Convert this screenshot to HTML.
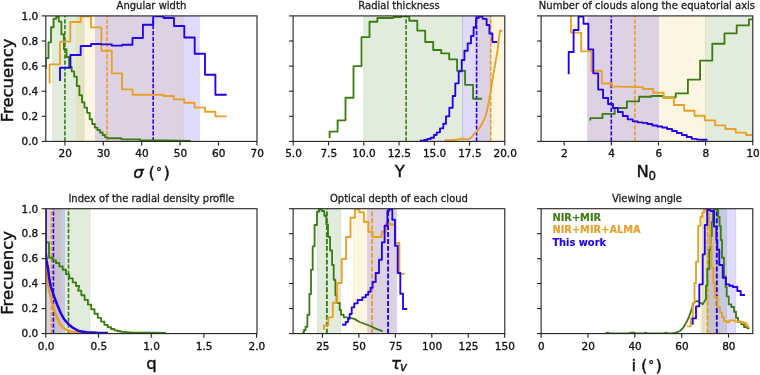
<!DOCTYPE html>
<html><head><meta charset="utf-8"><title>Posterior distributions</title>
<style>html,body{margin:0;padding:0;background:#fff;}svg{display:block;}</style></head>
<body>
<svg width="760" height="375" viewBox="0 0 760 375" font-family="'DejaVu Sans','Liberation Sans',sans-serif">
<rect width="760" height="375" fill="#fff"/>
<clipPath id="c1"><rect x="45.8" y="15.9" width="211.2" height="125.5"/></clipPath>
<g clip-path="url(#c1)">
<rect x="52.6" y="15.9" width="31.5" height="125.5" fill="#3a7d14" fill-opacity="0.15" stroke="#3a7d14" stroke-opacity="0.15" stroke-width="0.7"/>
<rect x="76.4" y="15.9" width="107.5" height="125.5" fill="#eebe3c" fill-opacity="0.15" stroke="#eebe3c" stroke-opacity="0.15" stroke-width="0.7"/>
<rect x="95.6" y="15.9" width="103.7" height="125.5" fill="#2200f0" fill-opacity="0.14" stroke="#2200f0" stroke-opacity="0.14" stroke-width="0.7"/>
<line x1="64.9" y1="141.4" x2="64.9" y2="15.9" stroke="#3a7d14" stroke-width="1.60" stroke-dasharray="4.2 1.7"/>
<line x1="107.1" y1="141.4" x2="107.1" y2="15.9" stroke="#e8a026" stroke-width="1.60" stroke-dasharray="4.2 1.7"/>
<line x1="153.2" y1="141.4" x2="153.2" y2="15.9" stroke="#2200f0" stroke-width="1.60" stroke-dasharray="4.2 1.7"/>
<path d="M45.9 68.0 L45.9 58.0 L48.5 58.0 L48.5 42.4 L51.0 42.4 L51.0 27.2 L53.6 27.2 L53.6 18.8 L56.2 18.8 L56.2 16.8 L58.8 16.8 L58.8 21.6 L61.4 21.6 L61.4 34.4 L63.9 34.4 L63.9 49.2 L66.5 49.2 L66.5 57.0 L69.1 57.0 L69.1 67.0 L71.7 67.0 L71.7 71.4 L74.2 71.4 L74.2 76.6 L76.8 76.6 L76.8 86.0 L79.4 86.0 L79.4 95.2 L82.0 95.2 L82.0 102.4 L84.5 102.4 L84.5 107.6 L87.1 107.6 L87.1 112.8 L89.7 112.8 L89.7 119.2 L92.2 119.2 L92.2 124.0 L94.8 124.0 L94.8 127.6 L97.4 127.6 L97.4 130.0 L100.0 130.0 L100.0 132.5 L102.6 132.5 L102.6 135.0 L105.1 135.0 L105.1 137.3 L107.7 137.3 L107.7 138.2 L121.3 138.2 L121.3 139.3 L140.0 139.3 L140.0 140.2 L165.0 140.5 L190.0 141.0" fill="none" stroke="#3a7d14" stroke-width="1.85" stroke-linejoin="round" stroke-linecap="square" />
<path d="M49.6 82.6 L49.6 64.4 L60.0 64.4 L60.0 41.6 L70.3 41.6 L70.3 22.0 L80.7 22.0 L80.7 16.3 L91.0 16.3 L91.0 27.3 L101.4 27.3 L101.4 50.7 L111.8 50.7 L111.8 73.3 L122.1 73.3 L122.1 89.4 L132.5 89.4 L132.5 94.7 L142.8 94.7 L142.8 94.7 L153.2 94.7 L153.2 94.7 L163.6 94.7 L163.6 96.0 L173.9 96.0 L173.9 99.4 L184.3 99.4 L184.3 102.7 L194.6 102.7 L194.6 107.6 L205.0 107.6 L205.0 111.7 L215.4 111.7 L215.4 116.3 L225.7 116.3" fill="none" stroke="#e8a026" stroke-width="1.85" stroke-linejoin="round" stroke-linecap="square" />
<path d="M60.0 80.0 L60.0 67.7 L70.4 67.7 L70.4 55.0 L80.7 55.0 L80.7 46.0 L91.1 46.0 L91.1 44.0 L101.4 44.0 L101.4 44.4 L111.8 44.4 L111.8 45.6 L122.2 45.6 L122.2 44.7 L132.5 44.7 L132.5 38.0 L142.9 38.0 L142.9 24.7 L153.2 24.7 L153.2 16.3 L163.6 16.3 L163.6 18.0 L174.0 18.0 L174.0 26.0 L184.3 26.0 L184.3 37.5 L194.7 37.5 L194.7 53.7 L205.0 53.7 L205.0 74.7 L215.4 74.7 L215.4 94.7 L225.8 94.7" fill="none" stroke="#2200f0" stroke-width="1.85" stroke-linejoin="round" stroke-linecap="square" />
</g>
<rect x="45.8" y="15.9" width="211.2" height="125.5" fill="none" stroke="#222" stroke-width="1.10"/>
<line x1="41.7" y1="141.4" x2="45.8" y2="141.4" stroke="#222" stroke-width="1.10"/>
<text transform="translate(38.20 145.20) scale(0.930 1)" font-size="11.30" text-anchor="end" fill="#111" font-weight="normal" font-style="normal" stroke="#111" stroke-width="0.35" >0.0</text>
<line x1="41.7" y1="116.3" x2="45.8" y2="116.3" stroke="#222" stroke-width="1.10"/>
<text transform="translate(38.20 120.10) scale(0.930 1)" font-size="11.30" text-anchor="end" fill="#111" font-weight="normal" font-style="normal" stroke="#111" stroke-width="0.35" >0.2</text>
<line x1="41.7" y1="91.2" x2="45.8" y2="91.2" stroke="#222" stroke-width="1.10"/>
<text transform="translate(38.20 95.00) scale(0.930 1)" font-size="11.30" text-anchor="end" fill="#111" font-weight="normal" font-style="normal" stroke="#111" stroke-width="0.35" >0.4</text>
<line x1="41.7" y1="66.1" x2="45.8" y2="66.1" stroke="#222" stroke-width="1.10"/>
<text transform="translate(38.20 69.90) scale(0.930 1)" font-size="11.30" text-anchor="end" fill="#111" font-weight="normal" font-style="normal" stroke="#111" stroke-width="0.35" >0.6</text>
<line x1="41.7" y1="41.0" x2="45.8" y2="41.0" stroke="#222" stroke-width="1.10"/>
<text transform="translate(38.20 44.80) scale(0.930 1)" font-size="11.30" text-anchor="end" fill="#111" font-weight="normal" font-style="normal" stroke="#111" stroke-width="0.35" >0.8</text>
<line x1="41.7" y1="15.9" x2="45.8" y2="15.9" stroke="#222" stroke-width="1.10"/>
<text transform="translate(38.20 19.70) scale(0.930 1)" font-size="11.30" text-anchor="end" fill="#111" font-weight="normal" font-style="normal" stroke="#111" stroke-width="0.35" >1.0</text>
<line x1="64.9" y1="141.4" x2="64.9" y2="145.5" stroke="#222" stroke-width="1.10"/>
<text transform="translate(65.20 157.30) scale(0.930 1)" font-size="11.30" text-anchor="middle" fill="#111" font-weight="normal" font-style="normal" stroke="#111" stroke-width="0.35" >20</text>
<line x1="103.3" y1="141.4" x2="103.3" y2="145.5" stroke="#222" stroke-width="1.10"/>
<text transform="translate(103.60 157.30) scale(0.930 1)" font-size="11.30" text-anchor="middle" fill="#111" font-weight="normal" font-style="normal" stroke="#111" stroke-width="0.35" >30</text>
<line x1="141.7" y1="141.4" x2="141.7" y2="145.5" stroke="#222" stroke-width="1.10"/>
<text transform="translate(142.00 157.30) scale(0.930 1)" font-size="11.30" text-anchor="middle" fill="#111" font-weight="normal" font-style="normal" stroke="#111" stroke-width="0.35" >40</text>
<line x1="180.1" y1="141.4" x2="180.1" y2="145.5" stroke="#222" stroke-width="1.10"/>
<text transform="translate(180.40 157.30) scale(0.930 1)" font-size="11.30" text-anchor="middle" fill="#111" font-weight="normal" font-style="normal" stroke="#111" stroke-width="0.35" >50</text>
<line x1="218.5" y1="141.4" x2="218.5" y2="145.5" stroke="#222" stroke-width="1.10"/>
<text transform="translate(218.80 157.30) scale(0.930 1)" font-size="11.30" text-anchor="middle" fill="#111" font-weight="normal" font-style="normal" stroke="#111" stroke-width="0.35" >60</text>
<line x1="256.9" y1="141.4" x2="256.9" y2="145.5" stroke="#222" stroke-width="1.10"/>
<text transform="translate(257.20 157.30) scale(0.930 1)" font-size="11.30" text-anchor="middle" fill="#111" font-weight="normal" font-style="normal" stroke="#111" stroke-width="0.35" >70</text>
<text transform="translate(151.40 9.10) scale(0.945 1)" font-size="10.60" text-anchor="middle" fill="#1c1c1c" font-weight="normal" font-style="normal" stroke="#1c1c1c" stroke-width="0.30" >Angular width</text>
<clipPath id="c2"><rect x="293.1" y="15.9" width="211.7" height="125.5"/></clipPath>
<g clip-path="url(#c2)">
<rect x="363.8" y="15.9" width="98.8" height="125.5" fill="#3a7d14" fill-opacity="0.15" stroke="#3a7d14" stroke-opacity="0.15" stroke-width="0.7"/>
<rect x="476.6" y="15.9" width="28.2" height="125.5" fill="#eebe3c" fill-opacity="0.15" stroke="#eebe3c" stroke-opacity="0.15" stroke-width="0.7"/>
<rect x="462.5" y="15.9" width="28.2" height="125.5" fill="#2200f0" fill-opacity="0.14" stroke="#2200f0" stroke-opacity="0.14" stroke-width="0.7"/>
<line x1="406.1" y1="141.4" x2="406.1" y2="15.9" stroke="#3a7d14" stroke-width="1.60" stroke-dasharray="4.2 1.7"/>
<line x1="490.7" y1="141.4" x2="490.7" y2="15.9" stroke="#e8a026" stroke-width="1.60" stroke-dasharray="4.2 1.7"/>
<line x1="476.6" y1="141.4" x2="476.6" y2="15.9" stroke="#2200f0" stroke-width="1.60" stroke-dasharray="4.2 1.7"/>
<path d="M329.6 137.0 L329.6 131.6 L337.6 131.6 L337.6 120.3 L345.5 120.3 L345.5 97.7 L353.5 97.7 L353.5 66.1 L361.5 66.1 L361.5 37.1 L369.5 37.1 L369.5 21.7 L377.4 21.7 L377.4 18.0 L385.4 18.0 L385.4 18.0 L393.4 18.0 L393.4 17.0 L401.3 17.0 L401.3 16.3 L409.3 16.3 L409.3 20.7 L417.3 20.7 L417.3 30.6 L425.2 30.6 L425.2 42.0 L433.2 42.0 L433.2 50.0 L441.2 50.0 L441.2 53.3 L449.2 53.3 L449.2 59.3 L457.1 59.3 L457.1 70.7 L465.1 70.7 L465.1 84.8 L473.1 84.8 L473.1 98.7 L481.0 98.7" fill="none" stroke="#3a7d14" stroke-width="1.85" stroke-linejoin="round" stroke-linecap="square" />
<path d="M445.3 140.3 L454.0 140.0 L463.3 138.7 L467.3 139.6 L471.3 137.7 L474.0 133.7 L476.7 131.7 L479.3 128.3 L482.0 123.7 L484.7 118.3 L486.7 112.3 L488.0 105.7 L489.3 99.0 L490.7 91.0 L492.0 82.7 L493.3 74.7 L494.7 66.7 L496.0 59.3 L497.3 52.0 L498.3 44.0 L499.7 32.0 L499.9 30.7 L501.2 30.7" fill="none" stroke="#e8a026" stroke-width="1.85" stroke-linejoin="round" stroke-linecap="square" />
<path d="M420.7 140.6 L424.0 140.6 L424.0 140.0 L427.3 140.0 L427.3 139.0 L430.7 139.0 L430.7 137.7 L434.0 137.7 L434.0 135.0 L436.7 135.0 L436.7 132.3 L440.0 132.3 L440.0 128.3 L443.3 128.3 L443.3 123.7 L446.0 123.7 L446.0 116.3 L449.3 116.3 L449.3 107.7 L452.7 107.7 L452.7 96.0 L455.3 96.0 L455.3 83.3 L458.7 83.3 L458.7 71.3 L461.7 71.3 L461.7 60.0 L464.4 60.0 L464.4 50.7 L467.7 50.7 L467.7 43.3 L471.0 43.3 L471.0 36.0 L473.6 36.0 L473.6 27.2 L476.0 27.2 L476.0 18.0 L478.7 18.0 L478.7 16.6 L482.6 16.6 L482.6 18.8 L486.6 18.8 L486.6 25.0 L489.4 25.0 L489.4 33.5 L492.4 33.5 L492.4 42.0 L496.3 42.0" fill="none" stroke="#2200f0" stroke-width="1.85" stroke-linejoin="round" stroke-linecap="square" />
</g>
<rect x="293.1" y="15.9" width="211.7" height="125.5" fill="none" stroke="#222" stroke-width="1.10"/>
<line x1="289.0" y1="141.4" x2="293.1" y2="141.4" stroke="#222" stroke-width="1.10"/>
<line x1="289.0" y1="116.3" x2="293.1" y2="116.3" stroke="#222" stroke-width="1.10"/>
<line x1="289.0" y1="91.2" x2="293.1" y2="91.2" stroke="#222" stroke-width="1.10"/>
<line x1="289.0" y1="66.1" x2="293.1" y2="66.1" stroke="#222" stroke-width="1.10"/>
<line x1="289.0" y1="41.0" x2="293.1" y2="41.0" stroke="#222" stroke-width="1.10"/>
<line x1="289.0" y1="15.9" x2="293.1" y2="15.9" stroke="#222" stroke-width="1.10"/>
<line x1="293.2" y1="141.4" x2="293.2" y2="145.5" stroke="#222" stroke-width="1.10"/>
<text transform="translate(293.50 157.30) scale(0.930 1)" font-size="11.30" text-anchor="middle" fill="#111" font-weight="normal" font-style="normal" stroke="#111" stroke-width="0.35" >5.0</text>
<line x1="328.5" y1="141.4" x2="328.5" y2="145.5" stroke="#222" stroke-width="1.10"/>
<text transform="translate(328.77 157.30) scale(0.930 1)" font-size="11.30" text-anchor="middle" fill="#111" font-weight="normal" font-style="normal" stroke="#111" stroke-width="0.35" >7.5</text>
<line x1="363.8" y1="141.4" x2="363.8" y2="145.5" stroke="#222" stroke-width="1.10"/>
<text transform="translate(364.05 157.30) scale(0.930 1)" font-size="11.30" text-anchor="middle" fill="#111" font-weight="normal" font-style="normal" stroke="#111" stroke-width="0.35" >10.0</text>
<line x1="399.0" y1="141.4" x2="399.0" y2="145.5" stroke="#222" stroke-width="1.10"/>
<text transform="translate(399.32 157.30) scale(0.930 1)" font-size="11.30" text-anchor="middle" fill="#111" font-weight="normal" font-style="normal" stroke="#111" stroke-width="0.35" >12.5</text>
<line x1="434.3" y1="141.4" x2="434.3" y2="145.5" stroke="#222" stroke-width="1.10"/>
<text transform="translate(434.60 157.30) scale(0.930 1)" font-size="11.30" text-anchor="middle" fill="#111" font-weight="normal" font-style="normal" stroke="#111" stroke-width="0.35" >15.0</text>
<line x1="469.6" y1="141.4" x2="469.6" y2="145.5" stroke="#222" stroke-width="1.10"/>
<text transform="translate(469.88 157.30) scale(0.930 1)" font-size="11.30" text-anchor="middle" fill="#111" font-weight="normal" font-style="normal" stroke="#111" stroke-width="0.35" >17.5</text>
<line x1="504.8" y1="141.4" x2="504.8" y2="145.5" stroke="#222" stroke-width="1.10"/>
<text transform="translate(505.15 157.30) scale(0.930 1)" font-size="11.30" text-anchor="middle" fill="#111" font-weight="normal" font-style="normal" stroke="#111" stroke-width="0.35" >20.0</text>
<text transform="translate(398.95 9.10) scale(0.945 1)" font-size="10.60" text-anchor="middle" fill="#1c1c1c" font-weight="normal" font-style="normal" stroke="#1c1c1c" stroke-width="0.30" >Radial thickness</text>
<clipPath id="c3"><rect x="541.1" y="15.9" width="211.7" height="125.5"/></clipPath>
<g clip-path="url(#c3)">
<rect x="705.6" y="15.9" width="47.2" height="125.5" fill="#3a7d14" fill-opacity="0.15" stroke="#3a7d14" stroke-opacity="0.15" stroke-width="0.7"/>
<rect x="587.7" y="15.9" width="118.0" height="125.5" fill="#eebe3c" fill-opacity="0.15" stroke="#eebe3c" stroke-opacity="0.15" stroke-width="0.7"/>
<rect x="587.7" y="15.9" width="70.8" height="125.5" fill="#2200f0" fill-opacity="0.14" stroke="#2200f0" stroke-opacity="0.14" stroke-width="0.7"/>
<line x1="634.9" y1="141.4" x2="634.9" y2="15.9" stroke="#e8a026" stroke-width="1.60" stroke-dasharray="4.2 1.7"/>
<line x1="611.3" y1="141.4" x2="611.3" y2="15.9" stroke="#2200f0" stroke-width="1.60" stroke-dasharray="4.2 1.7"/>
<path d="M590.3 119.6 L590.3 118.1 L602.5 118.1 L602.5 113.9 L614.7 113.9 L614.7 108.0 L626.9 108.0 L626.9 101.3 L639.1 101.3 L639.1 96.7 L651.3 96.7 L651.3 96.0 L663.5 96.0 L663.5 97.4 L675.7 97.4 L675.7 93.4 L687.9 93.4 L687.9 79.6 L700.1 79.6 L700.1 60.6 L712.3 60.6 L712.3 43.7 L724.5 43.7 L724.5 33.4 L736.7 33.4 L736.7 25.3 L748.9 25.3 L748.9 19.3 L761.1 19.3" fill="none" stroke="#3a7d14" stroke-width="1.85" stroke-linejoin="round" stroke-linecap="square" />
<path d="M570.9 16.3 L570.9 32.6 L581.2 32.6 L581.2 51.3 L591.5 51.3 L591.5 70.7 L601.8 70.7 L601.8 83.5 L612.1 83.5 L612.1 86.6 L622.4 86.6 L622.4 86.9 L632.7 86.9 L632.7 87.1 L643.0 87.1 L643.0 89.0 L653.3 89.0 L653.3 92.7 L663.6 92.7 L663.6 98.0 L673.9 98.0 L673.9 105.0 L684.2 105.0 L684.2 110.7 L694.5 110.7 L694.5 115.7 L704.8 115.7 L704.8 120.4 L715.1 120.4 L715.1 125.3 L725.4 125.3 L725.4 129.0 L735.7 129.0 L735.7 132.6 L746.0 132.6 L746.0 135.0 L756.3 135.0" fill="none" stroke="#e8a026" stroke-width="1.85" stroke-linejoin="round" stroke-linecap="square" />
<path d="M568.7 73.3 L568.7 52.0 L573.6 52.0 L573.6 30.0 L578.5 30.0 L578.5 16.6 L583.5 16.6 L583.5 23.7 L588.4 23.7 L588.4 49.3 L593.3 49.3 L593.3 73.3 L598.2 73.3 L598.2 89.6 L603.1 89.6 L603.1 98.0 L608.1 98.0 L608.1 104.0 L613.0 104.0 L613.0 108.0 L617.9 108.0 L617.9 112.0 L622.8 112.0 L622.8 116.0 L627.7 116.0 L627.7 119.3 L632.7 119.3 L632.7 121.3 L637.6 121.3 L637.6 122.3 L642.5 122.3 L642.5 122.9 L647.4 122.9 L647.4 124.0 L652.3 124.0 L652.3 125.5 L657.3 125.5 L657.3 126.5 L662.2 126.5 L662.2 127.5 L667.1 127.5 L667.1 129.0 L672.0 129.0 L672.0 131.0 L676.9 131.0 L676.9 133.0 L681.9 133.0 L681.9 135.0 L686.8 135.0 L686.8 137.0 L691.7 137.0 L691.7 138.8 L696.6 138.8 L696.6 139.6 L701.5 139.6 L701.5 139.7 L706.5 139.7" fill="none" stroke="#2200f0" stroke-width="1.85" stroke-linejoin="round" stroke-linecap="square" />
</g>
<rect x="541.1" y="15.9" width="211.7" height="125.5" fill="none" stroke="#222" stroke-width="1.10"/>
<line x1="537.0" y1="141.4" x2="541.1" y2="141.4" stroke="#222" stroke-width="1.10"/>
<line x1="537.0" y1="116.3" x2="541.1" y2="116.3" stroke="#222" stroke-width="1.10"/>
<line x1="537.0" y1="91.2" x2="541.1" y2="91.2" stroke="#222" stroke-width="1.10"/>
<line x1="537.0" y1="66.1" x2="541.1" y2="66.1" stroke="#222" stroke-width="1.10"/>
<line x1="537.0" y1="41.0" x2="541.1" y2="41.0" stroke="#222" stroke-width="1.10"/>
<line x1="537.0" y1="15.9" x2="541.1" y2="15.9" stroke="#222" stroke-width="1.10"/>
<line x1="564.1" y1="141.4" x2="564.1" y2="145.5" stroke="#222" stroke-width="1.10"/>
<text transform="translate(564.39 157.30) scale(0.930 1)" font-size="11.30" text-anchor="middle" fill="#111" font-weight="normal" font-style="normal" stroke="#111" stroke-width="0.35" >2</text>
<line x1="611.3" y1="141.4" x2="611.3" y2="145.5" stroke="#222" stroke-width="1.10"/>
<text transform="translate(611.57 157.30) scale(0.930 1)" font-size="11.30" text-anchor="middle" fill="#111" font-weight="normal" font-style="normal" stroke="#111" stroke-width="0.35" >4</text>
<line x1="658.5" y1="141.4" x2="658.5" y2="145.5" stroke="#222" stroke-width="1.10"/>
<text transform="translate(658.75 157.30) scale(0.930 1)" font-size="11.30" text-anchor="middle" fill="#111" font-weight="normal" font-style="normal" stroke="#111" stroke-width="0.35" >6</text>
<line x1="705.6" y1="141.4" x2="705.6" y2="145.5" stroke="#222" stroke-width="1.10"/>
<text transform="translate(705.93 157.30) scale(0.930 1)" font-size="11.30" text-anchor="middle" fill="#111" font-weight="normal" font-style="normal" stroke="#111" stroke-width="0.35" >8</text>
<line x1="752.8" y1="141.4" x2="752.8" y2="145.5" stroke="#222" stroke-width="1.10"/>
<text transform="translate(753.11 157.30) scale(0.930 1)" font-size="11.30" text-anchor="middle" fill="#111" font-weight="normal" font-style="normal" stroke="#111" stroke-width="0.35" >10</text>
<text transform="translate(646.95 9.10) scale(0.945 1)" font-size="10.60" text-anchor="middle" fill="#1c1c1c" font-weight="normal" font-style="normal" stroke="#1c1c1c" stroke-width="0.30" >Number of clouds along the equatorial axis</text>
<clipPath id="c4"><rect x="45.8" y="208.7" width="211.2" height="124.9"/></clipPath>
<g clip-path="url(#c4)">
<rect x="54.2" y="208.7" width="35.8" height="124.9" fill="#3a7d14" fill-opacity="0.15" stroke="#3a7d14" stroke-opacity="0.15" stroke-width="0.7"/>
<rect x="45.8" y="208.7" width="14.8" height="124.9" fill="#eebe3c" fill-opacity="0.15" stroke="#eebe3c" stroke-opacity="0.15" stroke-width="0.7"/>
<rect x="45.8" y="208.7" width="18.6" height="124.9" fill="#2200f0" fill-opacity="0.14" stroke="#2200f0" stroke-opacity="0.14" stroke-width="0.7"/>
<line x1="68.5" y1="333.6" x2="68.5" y2="208.7" stroke="#3a7d14" stroke-width="1.60" stroke-dasharray="4.2 1.7"/>
<line x1="51.4" y1="333.6" x2="51.4" y2="208.7" stroke="#e8a026" stroke-width="1.60" stroke-dasharray="4.2 1.7"/>
<line x1="53.4" y1="333.6" x2="53.4" y2="208.7" stroke="#2200f0" stroke-width="1.60" stroke-dasharray="4.2 1.7"/>
<path d="M46.4 242.3 L49.0 242.3 L49.0 257.7 L52.7 257.7 L52.7 260.3 L56.0 260.3 L56.0 263.0 L59.3 263.0 L59.3 266.3 L62.7 266.3 L62.7 269.7 L66.0 269.7 L66.0 274.3 L69.3 274.3 L69.3 278.3 L72.7 278.3 L72.7 282.3 L76.0 282.3 L76.0 286.0 L79.3 286.0 L78.0 290.6 L81.3 290.6 L81.3 295.2 L84.6 295.2 L84.6 299.9 L87.9 299.9 L87.9 304.6 L91.2 304.6 L91.2 309.2 L94.5 309.2 L94.5 313.7 L97.8 313.7 L97.8 317.8 L101.1 317.8 L101.1 321.6 L104.4 321.6 L104.4 324.9 L107.7 324.9 L107.7 327.2 L111.0 327.2 L111.0 329.0 L114.3 329.0 L114.3 330.3 L117.6 330.3 L117.6 331.2 L120.9 331.2 L120.9 331.8 L124.2 331.8 L124.2 332.2 L127.5 332.2 L127.5 332.5 L130.8 332.5 L132.0 332.7 L135.3 332.7 L150.0 332.6 L165.0 332.9" fill="none" stroke="#3a7d14" stroke-width="1.85" stroke-linejoin="round" stroke-linecap="square" />
<path d="M46.2 266.0 L46.8 275.0 L47.6 281.6 L49.2 291.2 L50.5 296.5 L52.0 302.3 L54.7 311.7 L57.3 318.3 L60.0 323.7 L63.3 327.7 L67.3 330.3 L72.7 332.0 L80.0 332.7 L86.0 333.0" fill="none" stroke="#e8a026" stroke-width="2.40" stroke-linejoin="round" stroke-linecap="square" />
<path d="M45.6 208.7 L45.6 252.0 L46.6 261.0 L48.1 268.8 L49.2 278.4 L50.8 286.4 L52.6 292.0 L54.6 297.8 L57.3 305.0 L60.7 313.0 L64.0 319.0 L68.0 323.7 L72.7 327.7 L78.7 331.0 L86.7 332.3 L97.0 332.8 L106.7 333.0" fill="none" stroke="#2200f0" stroke-width="2.50" stroke-linejoin="round" stroke-linecap="square" />
</g>
<rect x="45.8" y="208.7" width="211.2" height="124.9" fill="none" stroke="#222" stroke-width="1.10"/>
<line x1="41.7" y1="333.6" x2="45.8" y2="333.6" stroke="#222" stroke-width="1.10"/>
<text transform="translate(38.20 337.40) scale(0.930 1)" font-size="11.30" text-anchor="end" fill="#111" font-weight="normal" font-style="normal" stroke="#111" stroke-width="0.35" >0.0</text>
<line x1="41.7" y1="308.6" x2="45.8" y2="308.6" stroke="#222" stroke-width="1.10"/>
<text transform="translate(38.20 312.42) scale(0.930 1)" font-size="11.30" text-anchor="end" fill="#111" font-weight="normal" font-style="normal" stroke="#111" stroke-width="0.35" >0.2</text>
<line x1="41.7" y1="283.6" x2="45.8" y2="283.6" stroke="#222" stroke-width="1.10"/>
<text transform="translate(38.20 287.44) scale(0.930 1)" font-size="11.30" text-anchor="end" fill="#111" font-weight="normal" font-style="normal" stroke="#111" stroke-width="0.35" >0.4</text>
<line x1="41.7" y1="258.7" x2="45.8" y2="258.7" stroke="#222" stroke-width="1.10"/>
<text transform="translate(38.20 262.46) scale(0.930 1)" font-size="11.30" text-anchor="end" fill="#111" font-weight="normal" font-style="normal" stroke="#111" stroke-width="0.35" >0.6</text>
<line x1="41.7" y1="233.7" x2="45.8" y2="233.7" stroke="#222" stroke-width="1.10"/>
<text transform="translate(38.20 237.48) scale(0.930 1)" font-size="11.30" text-anchor="end" fill="#111" font-weight="normal" font-style="normal" stroke="#111" stroke-width="0.35" >0.8</text>
<line x1="41.7" y1="208.7" x2="45.8" y2="208.7" stroke="#222" stroke-width="1.10"/>
<text transform="translate(38.20 212.50) scale(0.930 1)" font-size="11.30" text-anchor="end" fill="#111" font-weight="normal" font-style="normal" stroke="#111" stroke-width="0.35" >1.0</text>
<line x1="45.8" y1="333.6" x2="45.8" y2="337.7" stroke="#222" stroke-width="1.10"/>
<text transform="translate(46.10 349.50) scale(0.930 1)" font-size="11.30" text-anchor="middle" fill="#111" font-weight="normal" font-style="normal" stroke="#111" stroke-width="0.35" >0.0</text>
<line x1="98.5" y1="333.6" x2="98.5" y2="337.7" stroke="#222" stroke-width="1.10"/>
<text transform="translate(98.80 349.50) scale(0.930 1)" font-size="11.30" text-anchor="middle" fill="#111" font-weight="normal" font-style="normal" stroke="#111" stroke-width="0.35" >0.5</text>
<line x1="151.2" y1="333.6" x2="151.2" y2="337.7" stroke="#222" stroke-width="1.10"/>
<text transform="translate(151.50 349.50) scale(0.930 1)" font-size="11.30" text-anchor="middle" fill="#111" font-weight="normal" font-style="normal" stroke="#111" stroke-width="0.35" >1.0</text>
<line x1="203.9" y1="333.6" x2="203.9" y2="337.7" stroke="#222" stroke-width="1.10"/>
<text transform="translate(204.20 349.50) scale(0.930 1)" font-size="11.30" text-anchor="middle" fill="#111" font-weight="normal" font-style="normal" stroke="#111" stroke-width="0.35" >1.5</text>
<line x1="256.6" y1="333.6" x2="256.6" y2="337.7" stroke="#222" stroke-width="1.10"/>
<text transform="translate(256.90 349.50) scale(0.930 1)" font-size="11.30" text-anchor="middle" fill="#111" font-weight="normal" font-style="normal" stroke="#111" stroke-width="0.35" >2.0</text>
<text transform="translate(151.40 201.90) scale(0.945 1)" font-size="10.60" text-anchor="middle" fill="#1c1c1c" font-weight="normal" font-style="normal" stroke="#1c1c1c" stroke-width="0.30" >Index of the radial density profile</text>
<clipPath id="c5"><rect x="293.1" y="208.7" width="211.7" height="124.9"/></clipPath>
<g clip-path="url(#c5)">
<rect x="317.4" y="208.7" width="23.4" height="124.9" fill="#3a7d14" fill-opacity="0.15" stroke="#3a7d14" stroke-opacity="0.15" stroke-width="0.7"/>
<rect x="353.1" y="208.7" width="42.2" height="124.9" fill="#eebe3c" fill-opacity="0.15" stroke="#eebe3c" stroke-opacity="0.15" stroke-width="0.7"/>
<rect x="367.7" y="208.7" width="29.1" height="124.9" fill="#2200f0" fill-opacity="0.14" stroke="#2200f0" stroke-opacity="0.14" stroke-width="0.7"/>
<line x1="326.9" y1="333.6" x2="326.9" y2="208.7" stroke="#3a7d14" stroke-width="1.90" stroke-dasharray="4.9 2.0"/>
<line x1="372.1" y1="333.6" x2="372.1" y2="208.7" stroke="#e8a026" stroke-width="1.90" stroke-dasharray="4.9 2.0"/>
<line x1="388.1" y1="333.6" x2="388.1" y2="208.7" stroke="#2200f0" stroke-width="1.90" stroke-dasharray="4.9 2.0"/>
<path d="M303.0 332.6 L304.0 332.6 L304.0 330.0 L305.6 330.0 L305.6 326.7 L307.4 326.7 L307.4 314.7 L309.4 314.7 L309.4 294.0 L311.0 294.0 L311.0 269.7 L312.7 269.7 L312.7 246.3 L314.6 246.3 L314.6 225.0 L317.0 225.0 L317.0 211.7 L319.0 211.7 L319.0 209.4 L321.7 209.4 L321.7 211.0 L324.3 211.0 L324.3 215.7 L326.3 215.7 L326.3 224.3 L328.0 224.3 L328.0 237.0 L330.1 237.0 L330.1 250.5 L332.1 250.5 L332.1 265.0 L333.7 265.0 L333.7 279.7 L335.4 279.7 L335.4 295.0 L336.6 295.0 L336.6 303.0 L339.7 303.0 L339.7 310.0 L341.0 310.0 L341.0 314.7 L343.7 314.7 L343.7 317.3 L346.0 317.3 L349.0 317.7 L354.3 318.9 L359.7 322.0 L365.0 324.0 L370.3 326.0 L375.7 328.7 L381.0 330.7 L381.9 331.0" fill="none" stroke="#3a7d14" stroke-width="1.85" stroke-linejoin="round" stroke-linecap="square" />
<path d="M323.9 328.7 L323.9 325.3 L328.3 325.3 L328.3 317.3 L332.8 317.3 L332.8 302.7 L337.2 302.7 L337.2 283.0 L341.7 283.0 L341.7 259.0 L346.1 259.0 L346.1 237.0 L350.5 237.0 L350.5 217.7 L355.0 217.7 L355.0 209.4 L359.4 209.4 L359.4 212.3 L363.9 212.3 L363.9 221.7 L368.3 221.7 L368.3 231.7 L372.7 231.7 L372.7 237.0 L377.2 237.0 L377.2 237.0 L381.6 237.0 L381.6 231.7 L386.1 231.7 L386.1 223.7 L390.5 223.7 L390.5 224.5 L394.9 224.5 L394.9 243.0 L399.4 243.0 L399.4 273.7 L403.8 273.7" fill="none" stroke="#e8a026" stroke-width="1.85" stroke-linejoin="round" stroke-linecap="square" />
<path d="M343.0 324.7 L345.7 324.7 L345.7 322.0 L348.0 322.0 L348.0 318.7 L349.6 318.7 L349.6 314.0 L351.7 314.0 L351.7 307.3 L354.3 307.3 L354.3 303.3 L357.7 303.3 L357.7 300.0 L362.3 300.0 L362.3 297.3 L365.7 297.3 L365.7 294.7 L368.3 294.7 L368.3 291.7 L370.6 291.7 L370.6 287.7 L372.6 287.7 L372.6 282.0 L375.7 282.0 L375.7 273.0 L379.0 273.0 L379.0 259.7 L381.9 259.7 L381.9 242.3 L384.6 242.3 L384.6 225.7 L387.4 225.7 L387.4 211.0 L389.0 211.0 L389.0 209.4 L392.3 209.4 L392.3 219.7 L395.0 219.7 L395.0 245.7 L397.7 245.7 L397.7 273.0 L400.3 273.0 L400.3 293.7 L403.0 293.7 L403.0 309.0 L406.3 309.0" fill="none" stroke="#2200f0" stroke-width="1.85" stroke-linejoin="round" stroke-linecap="square" />
</g>
<rect x="293.1" y="208.7" width="211.7" height="124.9" fill="none" stroke="#222" stroke-width="1.10"/>
<line x1="289.0" y1="333.6" x2="293.1" y2="333.6" stroke="#222" stroke-width="1.10"/>
<line x1="289.0" y1="308.6" x2="293.1" y2="308.6" stroke="#222" stroke-width="1.10"/>
<line x1="289.0" y1="283.6" x2="293.1" y2="283.6" stroke="#222" stroke-width="1.10"/>
<line x1="289.0" y1="258.7" x2="293.1" y2="258.7" stroke="#222" stroke-width="1.10"/>
<line x1="289.0" y1="233.7" x2="293.1" y2="233.7" stroke="#222" stroke-width="1.10"/>
<line x1="289.0" y1="208.7" x2="293.1" y2="208.7" stroke="#222" stroke-width="1.10"/>
<line x1="322.5" y1="333.6" x2="322.5" y2="337.7" stroke="#222" stroke-width="1.10"/>
<text transform="translate(322.83 349.50) scale(0.930 1)" font-size="11.30" text-anchor="middle" fill="#111" font-weight="normal" font-style="normal" stroke="#111" stroke-width="0.35" >25</text>
<line x1="358.9" y1="333.6" x2="358.9" y2="337.7" stroke="#222" stroke-width="1.10"/>
<text transform="translate(359.24 349.50) scale(0.930 1)" font-size="11.30" text-anchor="middle" fill="#111" font-weight="normal" font-style="normal" stroke="#111" stroke-width="0.35" >50</text>
<line x1="395.4" y1="333.6" x2="395.4" y2="337.7" stroke="#222" stroke-width="1.10"/>
<text transform="translate(395.65 349.50) scale(0.930 1)" font-size="11.30" text-anchor="middle" fill="#111" font-weight="normal" font-style="normal" stroke="#111" stroke-width="0.35" >75</text>
<line x1="431.8" y1="333.6" x2="431.8" y2="337.7" stroke="#222" stroke-width="1.10"/>
<text transform="translate(432.07 349.50) scale(0.930 1)" font-size="11.30" text-anchor="middle" fill="#111" font-weight="normal" font-style="normal" stroke="#111" stroke-width="0.35" >100</text>
<line x1="468.2" y1="333.6" x2="468.2" y2="337.7" stroke="#222" stroke-width="1.10"/>
<text transform="translate(468.48 349.50) scale(0.930 1)" font-size="11.30" text-anchor="middle" fill="#111" font-weight="normal" font-style="normal" stroke="#111" stroke-width="0.35" >125</text>
<line x1="504.6" y1="333.6" x2="504.6" y2="337.7" stroke="#222" stroke-width="1.10"/>
<text transform="translate(504.89 349.50) scale(0.930 1)" font-size="11.30" text-anchor="middle" fill="#111" font-weight="normal" font-style="normal" stroke="#111" stroke-width="0.35" >150</text>
<text transform="translate(398.95 201.90) scale(0.945 1)" font-size="10.60" text-anchor="middle" fill="#1c1c1c" font-weight="normal" font-style="normal" stroke="#1c1c1c" stroke-width="0.30" >Optical depth of each cloud</text>
<clipPath id="c6"><rect x="541.1" y="208.7" width="211.7" height="124.9"/></clipPath>
<g clip-path="url(#c6)">
<rect x="702.1" y="208.7" width="24.6" height="124.9" fill="#3a7d14" fill-opacity="0.15" stroke="#3a7d14" stroke-opacity="0.15" stroke-width="0.7"/>
<rect x="700.0" y="208.7" width="19.2" height="124.9" fill="#eebe3c" fill-opacity="0.15" stroke="#eebe3c" stroke-opacity="0.15" stroke-width="0.7"/>
<rect x="707.2" y="208.7" width="28.6" height="124.9" fill="#2200f0" fill-opacity="0.14" stroke="#2200f0" stroke-opacity="0.14" stroke-width="0.7"/>
<line x1="707.5" y1="333.6" x2="707.5" y2="208.7" stroke="#e8a026" stroke-width="1.90" stroke-dasharray="4.9 2.0"/>
<line x1="716.8" y1="333.6" x2="716.8" y2="208.7" stroke="#2200f0" stroke-width="1.90" stroke-dasharray="4.9 2.0"/>
<path d="M606.0 333.3 L607.5 332.5 L609.5 333.3 L629.0 333.3 L631.0 332.6 L634.0 332.6 L636.0 333.3 L644.0 333.3 L645.5 332.7 L647.0 333.3 L664.0 333.3 L666.0 332.7 L668.0 333.3 L673.0 333.1 L676.5 332.3 L680.0 331.0 L683.3 327.7 L686.0 323.0 L688.7 317.7 L691.3 310.3 L693.3 304.3 L695.3 301.7 L697.3 301.0 L700.7 303.0 L702.7 304.3 L704.7 301.0 L706.0 299.0 L706.0 285.7 L707.3 285.7 L707.3 269.0 L709.3 269.0 L709.3 249.7 L710.6 249.7 L710.6 236.0 L711.8 236.0 L711.8 222.0 L713.0 222.0 L713.0 211.0 L714.0 211.0 L714.0 209.4 L717.4 209.4 L717.4 210.5 L718.2 210.5 L718.2 217.0 L719.6 217.0 L719.6 226.0 L720.8 226.0 L720.8 240.0 L722.0 240.0 L722.0 257.7 L724.0 257.7 L724.0 276.3 L725.6 276.3 L725.6 287.0 L726.7 287.0 L726.7 296.3 L728.7 296.3 L728.7 304.3 L731.3 304.3 L731.3 307.0 L734.0 307.0 L734.0 311.7 L736.0 311.7 L736.0 317.7 L738.0 317.7 L738.0 321.7 L741.3 321.7 L741.3 324.3 L744.0 324.3 L744.0 327.0 L747.3 327.0 L747.3 328.3 L748.5 328.3" fill="none" stroke="#3a7d14" stroke-width="1.85" stroke-linejoin="round" stroke-linecap="square" />
<path d="M688.0 326.3 L690.7 326.3 L690.7 318.3 L692.7 318.3 L692.7 303.0 L694.5 303.0 L694.5 283.0 L696.0 283.0 L696.0 261.7 L698.2 261.7 L698.2 225.8 L700.4 225.8 L700.4 217.0 L702.4 217.0 L702.4 212.6 L704.0 212.6 L704.0 209.5 L707.5 209.5 L707.5 214.0 L709.0 214.0 L709.0 228.0 L710.3 228.0 L710.3 245.0 L711.6 245.0 L711.6 267.7 L713.3 267.7 L713.3 283.0 L714.7 283.0 L714.7 297.0 L717.3 297.0 L717.3 307.0 L720.0 307.0 L720.0 312.3 L722.0 312.3 L722.0 317.0 L724.0 317.0 L724.0 321.0 L726.7 321.0 L726.7 322.3 L729.3 322.3 L729.3 320.3 L734.7 320.3 L734.7 321.4 L740.0 321.4 L740.0 322.0 L743.3 322.0 L743.3 323.0 L746.0 323.0 L746.0 325.0 L747.4 325.0 L747.4 326.6 L748.4 326.6" fill="none" stroke="#e8a026" stroke-width="1.85" stroke-linejoin="round" stroke-linecap="square" />
<path d="M692.7 323.7 L692.7 318.3 L696.0 318.3 L696.0 306.3 L699.3 306.3 L699.3 284.3 L702.7 284.3 L702.7 254.3 L704.8 254.3 L704.8 225.0 L707.2 225.0 L707.2 209.8 L710.4 209.8 L710.4 211.0 L714.0 211.0 L714.0 226.6 L716.4 226.6 L716.4 240.0 L717.3 240.0 L717.3 249.7 L719.3 249.7 L719.3 265.0 L722.7 265.0 L722.7 277.7 L726.0 277.7 L726.0 284.3 L729.3 284.3 L729.3 285.7 L733.0 285.7 L733.0 287.0 L737.3 287.0 L737.3 291.0 L740.7 291.0 L740.7 295.0 L744.0 295.0" fill="none" stroke="#2200f0" stroke-width="1.85" stroke-linejoin="round" stroke-linecap="square" />
</g>
<rect x="541.1" y="208.7" width="211.7" height="124.9" fill="none" stroke="#222" stroke-width="1.10"/>
<line x1="537.0" y1="333.6" x2="541.1" y2="333.6" stroke="#222" stroke-width="1.10"/>
<line x1="537.0" y1="308.6" x2="541.1" y2="308.6" stroke="#222" stroke-width="1.10"/>
<line x1="537.0" y1="283.6" x2="541.1" y2="283.6" stroke="#222" stroke-width="1.10"/>
<line x1="537.0" y1="258.7" x2="541.1" y2="258.7" stroke="#222" stroke-width="1.10"/>
<line x1="537.0" y1="233.7" x2="541.1" y2="233.7" stroke="#222" stroke-width="1.10"/>
<line x1="537.0" y1="208.7" x2="541.1" y2="208.7" stroke="#222" stroke-width="1.10"/>
<line x1="541.1" y1="333.6" x2="541.1" y2="337.7" stroke="#222" stroke-width="1.10"/>
<text transform="translate(541.40 349.50) scale(0.930 1)" font-size="11.30" text-anchor="middle" fill="#111" font-weight="normal" font-style="normal" stroke="#111" stroke-width="0.35" >0</text>
<line x1="588.0" y1="333.6" x2="588.0" y2="337.7" stroke="#222" stroke-width="1.10"/>
<text transform="translate(588.26 349.50) scale(0.930 1)" font-size="11.30" text-anchor="middle" fill="#111" font-weight="normal" font-style="normal" stroke="#111" stroke-width="0.35" >20</text>
<line x1="634.8" y1="333.6" x2="634.8" y2="337.7" stroke="#222" stroke-width="1.10"/>
<text transform="translate(635.12 349.50) scale(0.930 1)" font-size="11.30" text-anchor="middle" fill="#111" font-weight="normal" font-style="normal" stroke="#111" stroke-width="0.35" >40</text>
<line x1="681.7" y1="333.6" x2="681.7" y2="337.7" stroke="#222" stroke-width="1.10"/>
<text transform="translate(681.98 349.50) scale(0.930 1)" font-size="11.30" text-anchor="middle" fill="#111" font-weight="normal" font-style="normal" stroke="#111" stroke-width="0.35" >60</text>
<line x1="728.5" y1="333.6" x2="728.5" y2="337.7" stroke="#222" stroke-width="1.10"/>
<text transform="translate(728.84 349.50) scale(0.930 1)" font-size="11.30" text-anchor="middle" fill="#111" font-weight="normal" font-style="normal" stroke="#111" stroke-width="0.35" >80</text>
<text transform="translate(646.95 201.90) scale(0.945 1)" font-size="10.60" text-anchor="middle" fill="#1c1c1c" font-weight="normal" font-style="normal" stroke="#1c1c1c" stroke-width="0.30" >Viewing angle</text>
<text transform="translate(552.40 220.60) scale(0.930 1)" font-size="10.60" text-anchor="start" fill="#3a7d14" font-weight="bold" font-style="normal" stroke="#3a7d14" stroke-width="0.15" >NIR+MIR</text>
<text transform="translate(552.40 233.10) scale(0.930 1)" font-size="10.60" text-anchor="start" fill="#e8a026" font-weight="bold" font-style="normal" stroke="#e8a026" stroke-width="0.15" >NIR+MIR+ALMA</text>
<text transform="translate(552.40 245.60) scale(0.930 1)" font-size="10.60" text-anchor="start" fill="#2200f0" font-weight="bold" font-style="normal" stroke="#2200f0" stroke-width="0.15" >This work</text>
<text transform="translate(13.4 80.4) scale(0.945 1) rotate(-90)" font-size="16.50" text-anchor="middle" fill="#111" stroke="#111" stroke-width="0.40">Frecuency</text>
<text transform="translate(13.4 272.8) scale(0.945 1) rotate(-90)" font-size="16.50" text-anchor="middle" fill="#111" stroke="#111" stroke-width="0.40">Frecuency</text>
<text text-anchor="start" fill="#111" stroke="#111" stroke-width="0.40"><tspan x="133.3" y="177.8" font-size="16.50" font-style="italic">σ</tspan><tspan x="148.6" y="178.3" font-size="16.50">(</tspan><tspan x="155.9" y="176.0" font-size="11.80">°</tspan><tspan x="163.4" y="178.3" font-size="16.50">)</tspan></text>
<text text-anchor="start" fill="#111" stroke="#111" stroke-width="0.40"><tspan x="394.7" y="177.2" font-size="16.50">Y</tspan></text>
<text text-anchor="start" fill="#111" stroke="#111" stroke-width="0.40"><tspan x="636.6" y="177.4" font-size="16.50">N</tspan><tspan x="648.6" y="179.7" font-size="11.80">0</tspan></text>
<text text-anchor="start" fill="#111" stroke="#111" stroke-width="0.40"><tspan x="146.3" y="369.0" font-size="16.50">q</tspan></text>
<text text-anchor="start" fill="#111" stroke="#111" stroke-width="0.40"><tspan x="391.0" y="368.6" font-size="16.50" font-style="italic">τ</tspan><tspan x="399.9" y="370.8" font-size="11.80" font-style="italic">v</tspan></text>
<text text-anchor="start" fill="#111" stroke="#111" stroke-width="0.40"><tspan x="631.5" y="370.8" font-size="16.50">i</tspan><tspan x="641.0" y="370.9" font-size="16.50">(</tspan><tspan x="648.2" y="368.6" font-size="11.80">°</tspan><tspan x="655.6" y="370.9" font-size="16.50">)</tspan></text>
</svg>
</body></html>
